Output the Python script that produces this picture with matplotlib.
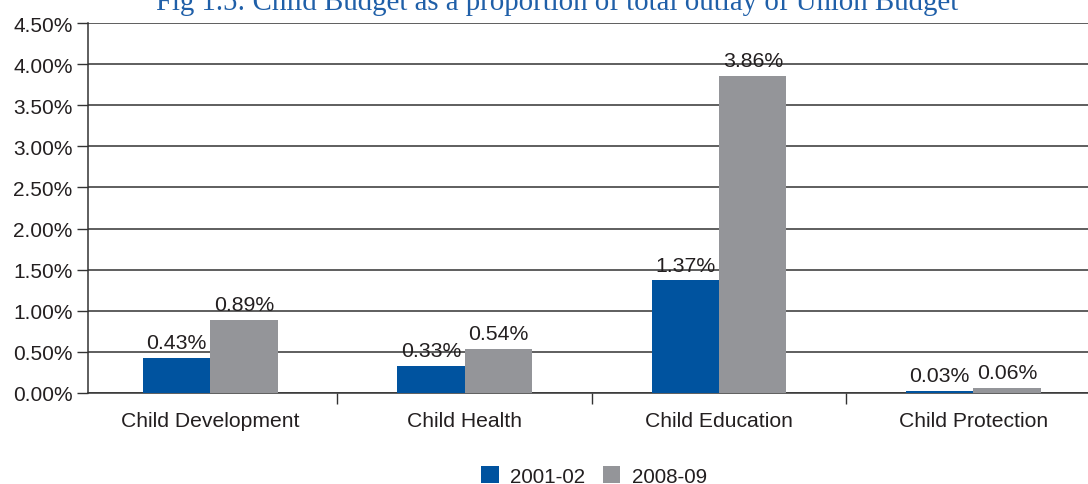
import numpy as np
import matplotlib
matplotlib.use("Agg")
import matplotlib.pyplot as plt
from matplotlib.ticker import FuncFormatter

plt.rcParams['font.family'] = ['Liberation Sans', 'DejaVu Sans']

categories = ["Child Development", "Child Health", "Child Education", "Child Protection"]
years = ["2001-02", "2008-09"]
share_2001 = [0.43, 0.33, 1.37, 0.03]
share_2008 = [0.89, 0.54, 3.86, 0.06]

blue = "#00539F"
grey = "#949599"
ink = "#231F20"

fig = plt.figure(figsize=(10.88, 4.85), dpi=100)
ax = fig.add_axes([88 / 1088, 1 - 394 / 485, 1000 / 1088, 370 / 485])

x = np.arange(len(categories))
w = 0.265
b1 = ax.bar(x - w / 2, share_2001, w, color=blue, label=years[0], zorder=3)
b2 = ax.bar(x + w / 2, share_2008, w, color=grey, label=years[1], zorder=3)

for bars, vals in [(b1, share_2001), (b2, share_2008)]:
    for r, v in zip(bars, vals):
        ax.text(r.get_x() + r.get_width() / 2, v + 0.07, f"{v:.2f}%",
                ha="center", va="bottom", fontsize=15.3, color=ink, zorder=4)

ax.set_ylim(0, 4.5)
ax.set_yticks(np.arange(0, 4.51, 0.5))
ax.yaxis.set_major_formatter(FuncFormatter(lambda v, p: f"{v:.2f}%"))
ax.grid(axis="y", color="#333333", linewidth=1.1, zorder=0)

ax.set_xlim(-0.48, 3.45)
ax.set_xticks([0.5, 1.5, 2.5])
ax.set_xticklabels([])
ax.set_xticks(x, minor=True)
ax.set_xticklabels(categories, minor=True)
ax.tick_params(axis="x", which="major", length=8, width=1, color="#333333", direction="out")
ax.tick_params(axis="x", which="minor", length=0, pad=13, labelsize=15.2, labelcolor=ink)
ax.tick_params(axis="y", length=8, width=1, color="#333333", labelsize=15, labelcolor=ink, pad=3)

for s in ["top", "right"]:
    ax.spines[s].set_visible(False)
ax.spines["left"].set_color("#333333")
ax.spines["bottom"].set_color("#333333")
ax.spines["left"].set_linewidth(1.1)
ax.spines["bottom"].set_linewidth(1.1)

fig.text(557 / 1088, 1 - 10 / 485,
         "Fig 1.5: Child Budget as a proportion of total outlay of Union Budget",
         ha="center", va="baseline", fontsize=20.8, color="#1F5FA8",
         family=["Liberation Serif", "DejaVu Serif"])

fig.legend(handles=[b1, b2], labels=years, loc="center", bbox_to_anchor=(594 / 1088, 1 - 477 / 485),
           ncol=2, frameon=False, fontsize=14.9, handlelength=0.85, handleheight=0.85,
           columnspacing=0.85, handletextpad=0.55, labelcolor=ink)

fig.savefig("out.png", dpi=100)
